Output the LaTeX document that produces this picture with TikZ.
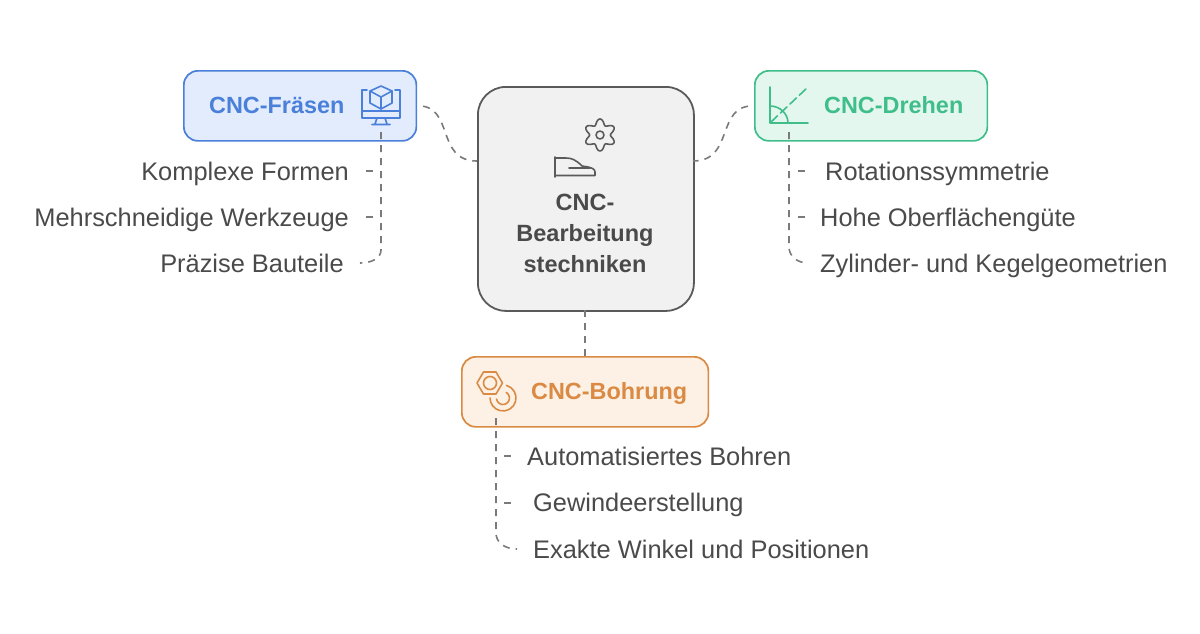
\documentclass[tikz,border=0pt]{standalone}
\usepackage{fontspec}
\setmainfont{Liberation Sans}
\usetikzlibrary{calc}
\definecolor{bluec}{HTML}{4A80DA}\definecolor{bluef}{HTML}{E2ECFC}
\definecolor{greenc}{HTML}{3FBE8A}\definecolor{greenf}{HTML}{E4F7EF}
\definecolor{orangec}{HTML}{DA8A43}\definecolor{orangef}{HTML}{FDF0E4}
\definecolor{greyc}{HTML}{5A5A5A}\definecolor{greyf}{HTML}{F1F1F1}
\definecolor{txt}{HTML}{4A4A4A}\definecolor{dashc}{HTML}{7A7A7A}
\tikzset{
 headbox/.style={draw=#1c,fill=#1f,line width=1.7pt,rounded corners=14pt,inner sep=0,anchor=north west},
 headtext/.style={font=\fontsize{23.4}{26}\selectfont\bfseries,text=#1c,inner sep=0,anchor=base west},
 item/.style={font=\fontsize{25.4}{28}\selectfont,text=txt,inner sep=0},
 conn/.style={draw=dashc,line width=1.6pt,dash pattern=on 7pt off 6pt},
 icon/.style={line width=1.6pt,line cap=round,line join=round}
}
\begin{document}
\begin{tikzpicture}[x=1pt,y=-1pt]
\useasboundingbox (0,0) rectangle (1200,633);
\node[headbox=blue,minimum width=232.5pt,minimum height=70pt] (fr) at (183,70) {};
\node[headbox=green,minimum width=232.5pt,minimum height=70pt] (dr) at (754,70) {};
\node[headbox=orange,minimum width=246.5pt,minimum height=70pt] (bo) at (461,356) {};
\node[draw=greyc,fill=greyf,line width=1.8pt,rounded corners=28pt,inner sep=0,anchor=north west,minimum width=216pt,minimum height=224pt] (ce) at (477,86) {};
\coordinate (cl) at (477,161);
\coordinate (cr) at (693,161);
\coordinate (cb) at (585,310);
\coordinate (ft) at (381,132);
\coordinate (dt) at (789,132);
\coordinate (bt) at (496,418);
\coordinate (bot) at (585,356);
% labels
\node[headtext=blue] (frt) at (209,113) {CNC-Fräsen};
\node[headtext=green] (drt) at (824,113) {CNC-Drehen};
\node[headtext=orange] (bot2) at (531,399) {CNC-Bohrung};
\node[align=center,font=\fontsize{23.5}{31}\selectfont\bfseries,text=txt,inner sep=0,anchor=north] (cet) at (585,193.5) {CNC-\\Bearbeitung\\stechniken};
\node[item,anchor=base east] (a1) at (349,180) {Komplexe Formen};
\node[item,anchor=base east] (a2) at (349,226) {Mehrschneidige Werkzeuge};
\node[item,anchor=base east] (a3) at (344,272) {Präzise Bauteile};
\node[item,anchor=base west] (b1) at (825,180) {Rotationssymmetrie};
\node[item,anchor=base west] (b2) at (820,226) {Hohe Oberflächengüte};
\node[item,anchor=base west] (b3) at (820,272) {Zylinder- und Kegelgeometrien};
\node[item,anchor=base west] (c1) at (527,465) {Automatisiertes Bohren};
\node[item,anchor=base west] (c2) at (533,511.5) {Gewindeerstellung};
\node[item,anchor=base west] (c3) at (533,558) {Exakte Winkel und Positionen};
% connectors
\draw[conn,dash phase=7pt] (fr.east) .. controls (455,105) and (435,161) .. (cl);
\draw[conn,dash phase=7pt] (dr.west) .. controls (715,105) and (735,161) .. (cr);
\draw[conn] (cb) -- (bot);
\draw[conn] (ft) -- (381,250) .. controls (381,258) and (372,263) .. (360,263);
\draw[conn] (dt) -- (789,247) .. controls (789,256) and (797,263) .. (808,263);
\draw[conn] (bt) -- (496,533) .. controls (496,542) and (504,549) .. (517,549);
\foreach \y in {171,217} {\draw[conn] (366,\y) -- (374,\y); \draw[conn] (798,\y) -- (806,\y);}
\foreach \y in {456,503} {\draw[conn] (504,\y) -- (512,\y);}
% monitor icon
\begin{scope}[icon,draw=bluec]
\draw (367,90) -- (362,90) -- (362,118) -- (400,118) -- (400,90) -- (395,90);
\draw (362,111) -- (400,111);
\draw (377,118) -- (375,124) (385,118) -- (387,124) (372,124.5) -- (390,124.5);
\draw (381,86) -- (370,91) -- (370,103) -- (381,109) -- (392,103) -- (392,91) -- cycle;
\draw (370,91) -- (381,97) -- (392,91) (381,97) -- (381,109);
\end{scope}
% green icon
\begin{scope}[icon,draw=greenc]
\draw (770,87) -- (770,123) -- (808,123);
\draw[dash pattern=on 9pt off 4pt] (771,122) -- (808,87);
\draw (770,106) arc (-90:0:18 and 17);
\end{scope}
% orange icon
\begin{scope}[icon,draw=orangec]
\draw (477,383) -- (483.5,372) -- (496,372) -- (502.5,383) -- (496,394) -- (483.5,394) -- cycle;
\draw (490,383) circle (6.5);
\draw (506.4,385.4) arc (-75:180:13);
\draw (506.2,392.4) arc (-60:170:6.5);
\end{scope}
% gear and shoe icons
\begin{scope}[icon,draw=greyc]
\draw[smooth,samples=96,domain=0:360,variable=\t] plot ({600+(13.2+2.8*cos(6*\t))*sin(\t)},{135-(13.2+2.8*cos(6*\t))*cos(\t)}) -- cycle;
\draw (600,135) circle (4);
\draw (555,157) -- (555,177) (555,175.5) -- (595,175.5) -- (595,172) .. controls (595,169) and (592,168) .. (588,167) -- (582,166) .. controls (576,160) and (572,158) .. (566,158) -- (555,158);
\draw (569,168) -- (590,168);
\end{scope}
\end{tikzpicture}
\end{document}
